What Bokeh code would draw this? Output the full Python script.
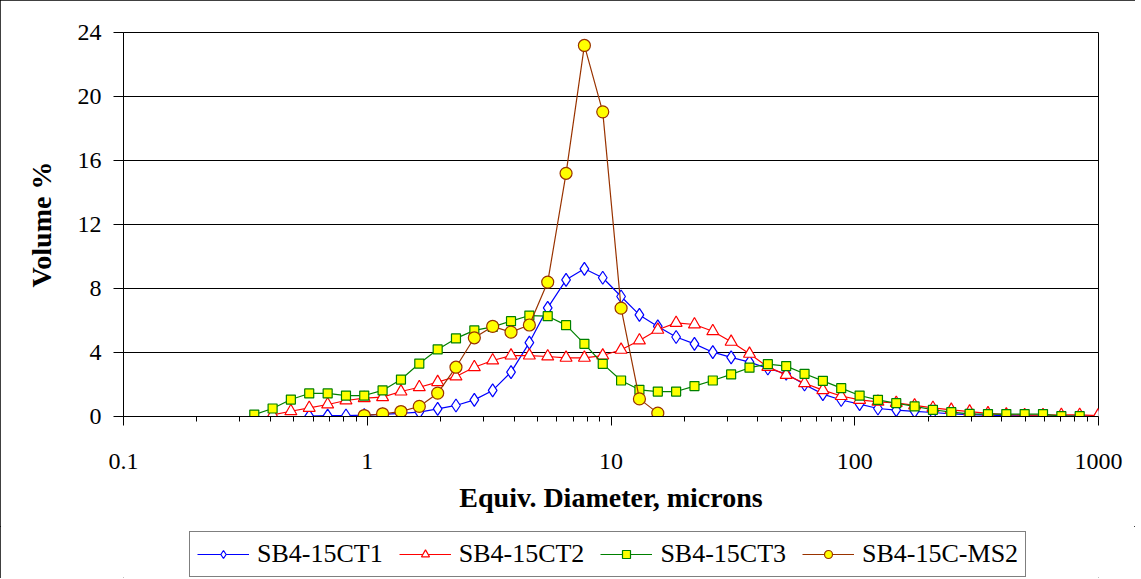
from bokeh.plotting import figure
from bokeh.models import FixedTicker, CustomJSTickFormatter, Legend, LegendItem, Range1d
from bokeh.layouts import column
from bokeh.embed import file_html
from bokeh.resources import INLINE

# Particle-size bins (microns)
diam = [0.344, 0.409, 0.486, 0.578, 0.688, 0.818, 0.972, 1.156, 1.375, 1.635,
        1.945, 2.312, 2.75, 3.27, 3.889, 4.625, 5.5, 6.541, 7.778, 9.25,
        11.0, 13.08, 15.56, 18.5, 22.0, 26.16, 31.11, 37.0, 44.0, 52.33,
        62.23, 74.0, 88.0, 104.7, 124.5, 148.0, 176.0, 209.3, 248.9, 296.0,
        352.0, 418.6, 497.8, 592.0, 704.0, 837.2, 995.6]

# SB4-15CT1 (from 0.578 to 995.6)
ct1_x = diam[3:]
ct1 = [0.02, 0.05, 0.06, 0.09, 0.13, 0.19, 0.27, 0.48, 0.69, 1.04,
       1.63, 2.77, 4.62, 6.79, 8.54, 9.23, 8.67, 7.5, 6.35, 5.63,
       4.97, 4.54, 4.02, 3.7, 3.4, 3.0, 2.67, 2.0, 1.4, 1.03,
       0.77, 0.5, 0.4, 0.32, 0.25, 0.17, 0.12, 0.08, 0.05, 0.04,
       0.03, 0.02, 0.02, 0.01]

# SB4-15CT2 (from 0.409 to 995.6)
ct2_x = diam[1:]
ct2 = [0.1, 0.33, 0.54, 0.75, 1.0, 1.15, 1.21, 1.56, 1.83, 2.15,
       2.5, 3.08, 3.5, 3.81, 3.81, 3.75, 3.67, 3.67, 3.81, 4.17,
       4.75, 5.42, 5.85, 5.75, 5.33, 4.67, 3.92, 3.1, 2.6, 2.08,
       1.65, 1.28, 1.04, 0.92, 0.85, 0.69, 0.54, 0.42, 0.31, 0.2,
       0.12, 0.08, 0.08, 0.1, 0.1, 0.06]

# SB4-15CT3 (from 0.344 to 837.2)
ct3_x = diam[:46]
ct3 = [0.12, 0.5, 1.06, 1.44, 1.44, 1.31, 1.31, 1.63, 2.31, 3.31,
       4.19, 4.88, 5.38, 5.6, 5.96, 6.31, 6.27, 5.71, 4.54, 3.29,
       2.25, 1.67, 1.56, 1.56, 1.9, 2.25, 2.63, 3.05, 3.27, 3.15,
       2.67, 2.23, 1.77, 1.31, 1.04, 0.83, 0.63, 0.42, 0.27, 0.17,
       0.15, 0.15, 0.15, 0.15, 0.02, 0.02]

# SB4-15C-MS2 (from 0.972 to 15.56)
ms2_x = diam[6:23]
ms2 = [0.06, 0.17, 0.31, 0.63, 1.46, 3.08, 4.92, 5.63, 5.27, 5.72,
       8.4, 15.2, 23.19, 19.04, 6.77, 1.1, 0.21]

series_names = ["SB4-15CT1", "SB4-15CT2", "SB4-15CT3", "SB4-15C-MS2"]
x_ticks = [0.1, 1, 10, 100, 1000]
x_tick_labels = ["0.1", "1", "10", "100", "1000"]
y_ticks = [0, 4, 8, 12, 16, 20, 24]

SERIF = "Liberation Serif"
styles = [
    dict(color="#0000FF", marker="diamond", size=13, fill="white"),
    dict(color="#FF0000", marker="triangle", size=12, fill="white"),
    dict(color="#008000", marker="square", size=9, fill="#FFFF00"),
    dict(color="#993300", marker="circle", size=12, fill="#FFFF00"),
]

p = figure(width=1135, height=526, x_axis_type="log",
           x_range=Range1d(0.1, 1000), y_range=Range1d(0, 24),
           output_backend="svg", toolbar_location=None,
           min_border_left=123, min_border_right=37,
           min_border_top=32, min_border_bottom=110)
p.background_fill_color = "white"
p.border_fill_color = "white"
p.outline_line_color = "black"
p.outline_line_width = 1

minor = [m * 10 ** k for k in range(-1, 3) for m in range(2, 10)]
p.xaxis.ticker = FixedTicker(ticks=x_ticks, minor_ticks=minor)
p.xaxis.formatter = CustomJSTickFormatter(
    args=dict(xt=x_ticks, xl=x_tick_labels),
    code="""
    for (let i = 0; i < xt.length; i++) {
        if (Math.abs(Math.log10(xt[i]) - Math.log10(tick)) < 1e-6) return xl[i];
    }
    return '';
    """)
p.yaxis.ticker = FixedTicker(ticks=y_ticks)

for ax in (p.xaxis[0], p.yaxis[0]):
    ax.axis_line_color = "black"
    ax.major_tick_line_color = "black"
    ax.major_tick_in = 0
    ax.major_label_text_font = SERIF
    ax.major_label_text_font_size = "24px"
    ax.major_label_text_color = "black"
    ax.axis_label_text_font = SERIF
    ax.axis_label_text_font_style = "bold"
    ax.axis_label_text_font_size = "28px"
    ax.axis_label_text_color = "black"

p.xaxis.major_tick_out = 9
p.xaxis.minor_tick_out = 5
p.xaxis.minor_tick_in = 0
p.xaxis.minor_tick_line_color = "black"
p.xaxis.major_label_standoff = 28
p.xaxis.axis_label = "Equiv. Diameter, microns"
p.xaxis.axis_label_standoff = 10

p.yaxis.major_tick_out = 10
p.yaxis.minor_tick_line_color = None
p.yaxis.major_label_standoff = 12
p.yaxis.axis_label = "Volume %"
p.yaxis.axis_label_standoff = 18

p.xgrid.visible = False
p.ygrid.grid_line_color = "black"
p.ygrid.grid_line_width = 1

series = [(ct1_x, ct1), (ct2_x, ct2), (ct3_x, ct3), (ms2_x, ms2)]
for (xs, ys), st in zip(series, styles):
    p.line(xs, ys, line_color=st["color"], line_width=1.2)
    p.scatter(xs, ys, marker=st["marker"], size=st["size"],
              line_color=st["color"], fill_color=st["fill"], line_width=1.2)

# Legend strip below the chart (its frame is aligned with the chart frame)
p2 = figure(width=1135, height=52, x_range=Range1d(0, 1), y_range=Range1d(0, 1),
            output_backend="svg", toolbar_location=None,
            x_axis_location=None, y_axis_location=None, min_border=0)
p2.grid.visible = False
p2.outline_line_color = None
p2.background_fill_color = "white"
p2.border_fill_color = "white"

items = []
for name, (xs, ys), st in zip(series_names, series, styles):
    lr = p2.line(xs, ys, line_color=st["color"], line_width=1.2, visible=False)
    sr = p2.scatter(xs, ys, marker=st["marker"], size=st["size"],
                    line_color=st["color"], fill_color=st["fill"], line_width=1.2,
                    visible=False)
    items.append(LegendItem(label=name, renderers=[lr, sr]))

legend = Legend(items=items, orientation="horizontal", location=(66, 1),
                label_text_font=SERIF, label_text_font_size="26px",
                label_text_color="black",
                glyph_width=52, glyph_height=20, label_standoff=8, spacing=16,
                padding=7, margin=0,
                inactive_fill_alpha=0.0,
                border_line_color="black", border_line_width=1,
                background_fill_color="white", background_fill_alpha=1)
p2.add_layout(legend, "center")

layout = column(p, p2, spacing=0,
                styles={"outline": "1px solid black", "outline-offset": "-1px"})
open("out.html", "w").write(file_html(layout, INLINE))
